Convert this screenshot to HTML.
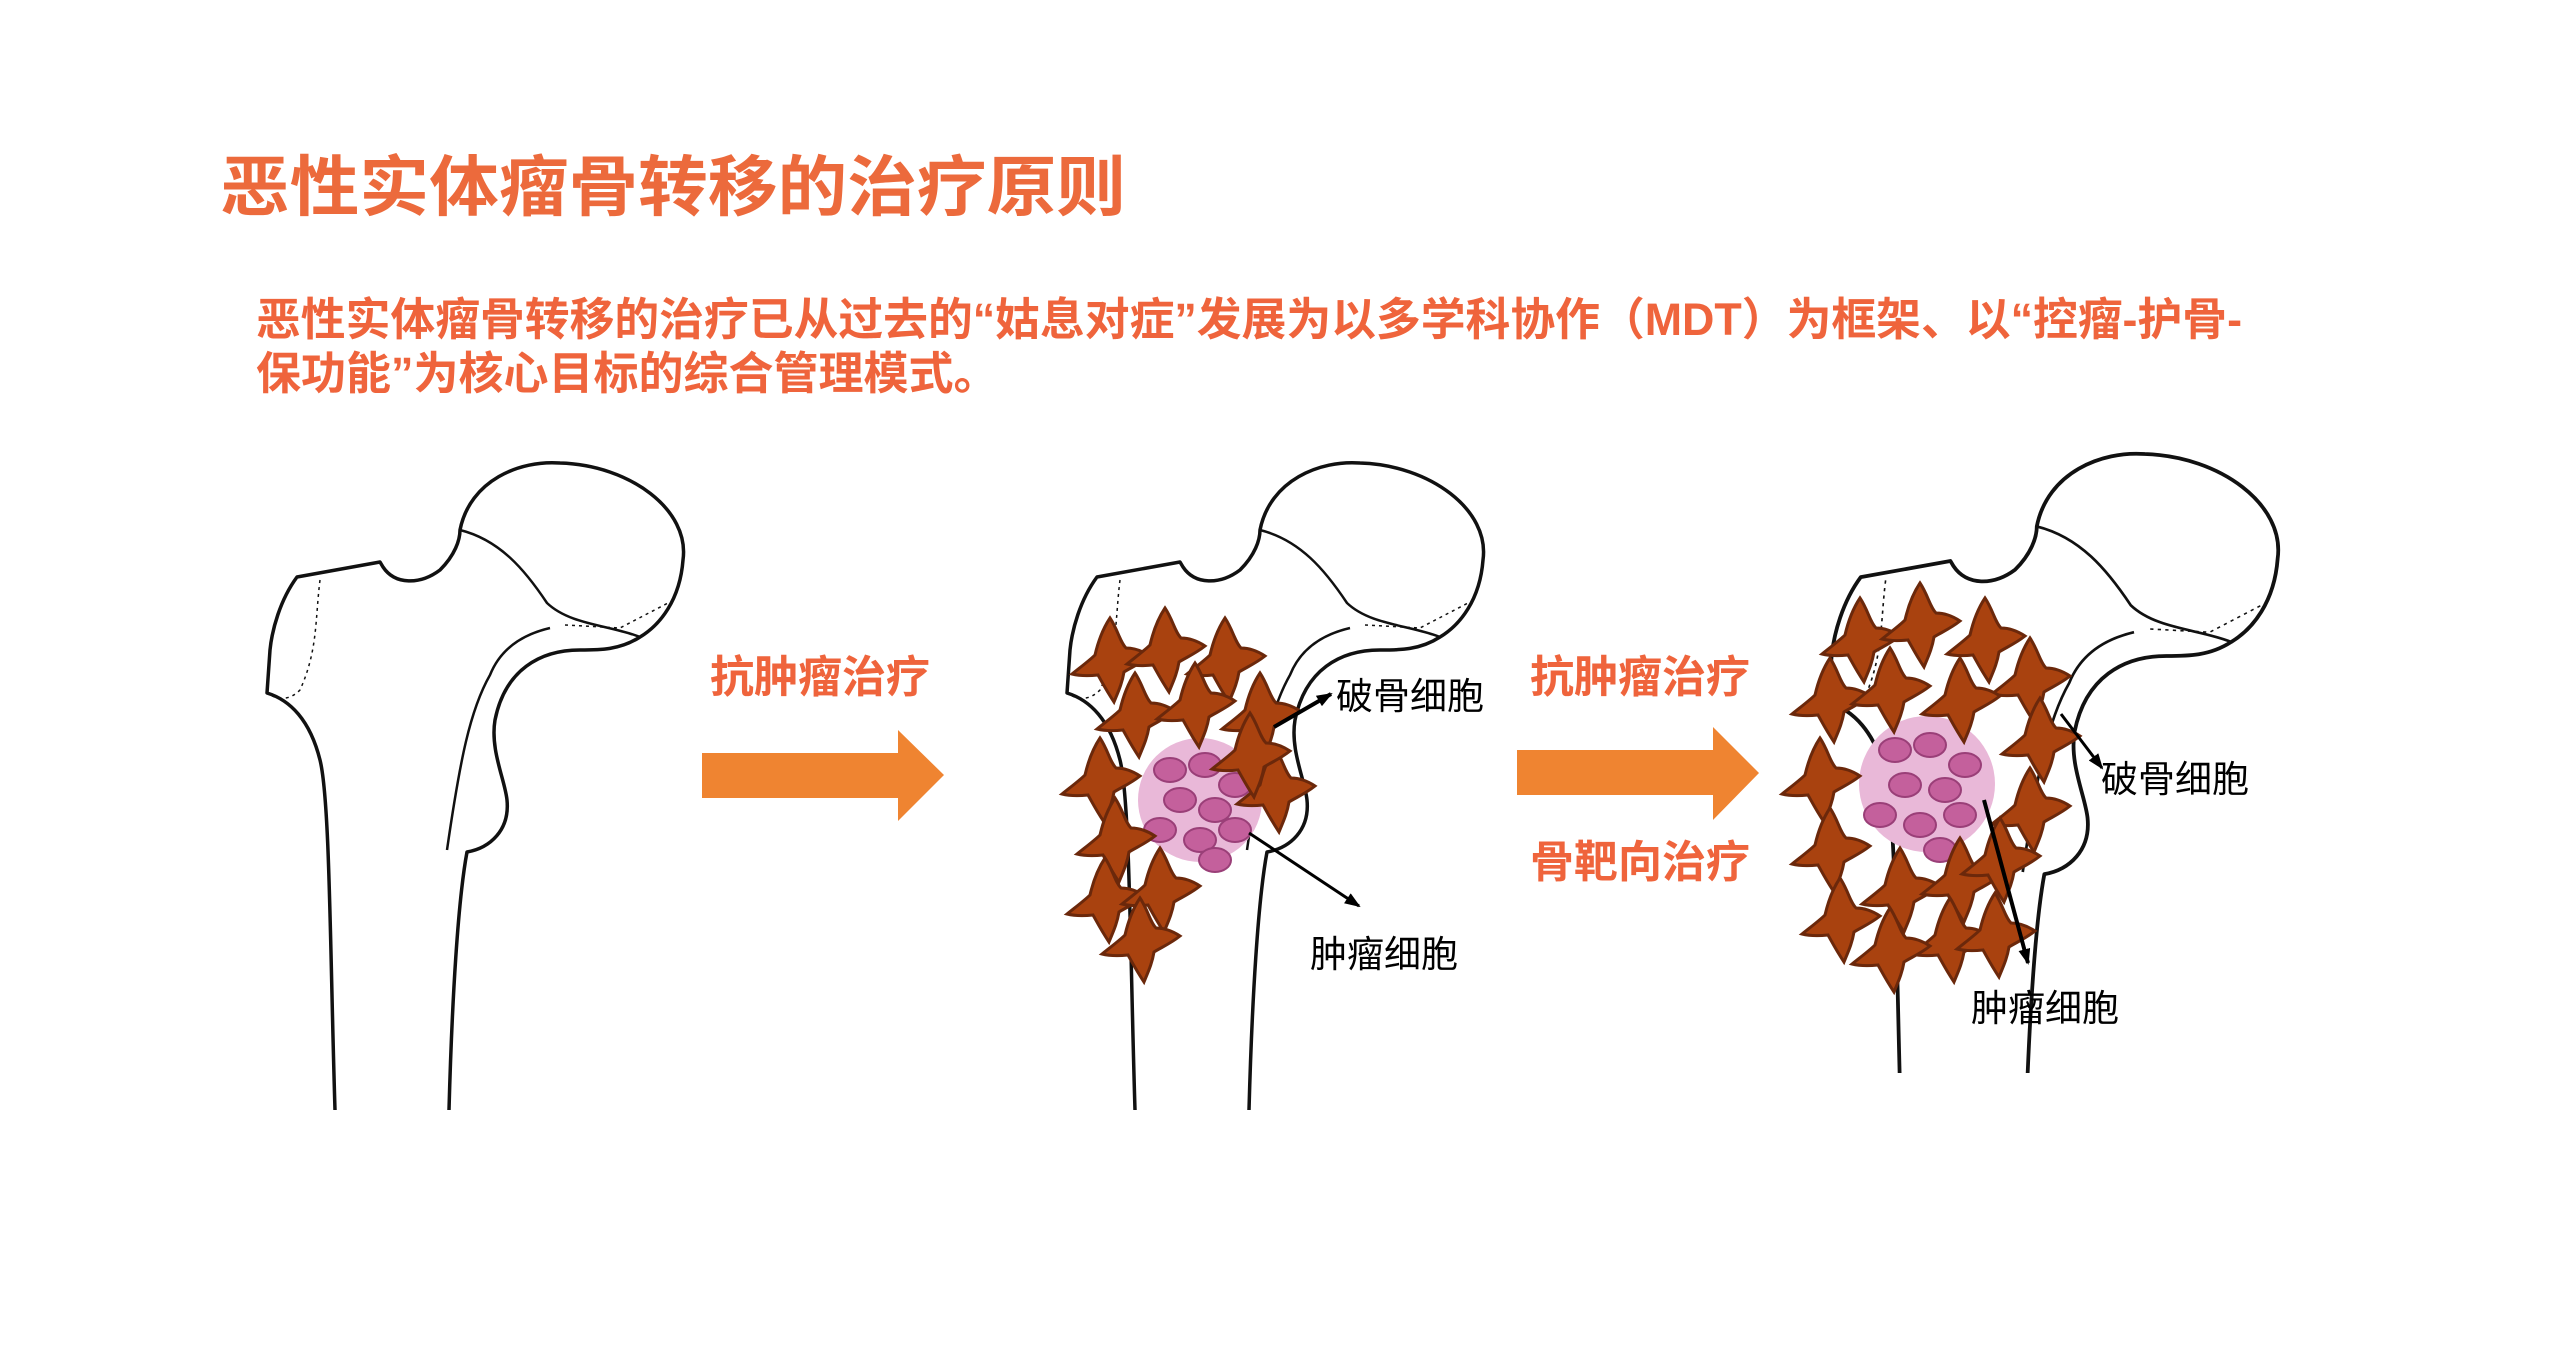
<!DOCTYPE html>
<html><head><meta charset="utf-8"><style>html,body{margin:0;padding:0;background:#fff}svg{display:block}</style></head>
<body>
<svg width="2560" height="1347" viewBox="0 0 2560 1347" xmlns="http://www.w3.org/2000/svg" font-family="'Liberation Sans','Noto Sans CJK SC',sans-serif">
<defs>
<g id="bone" fill="none" stroke="#111" stroke-width="3.5" stroke-linejoin="round">
<path d="M335 1110 C330 950 330 800 320 760 C310 720 290 700 267 693 L270 650 C272 630 280 600 297 577 L380 562 L383 567 C395 585 420 585 440 570 C455 555 460 540 460 530 C470 480 520 460 560 463 C630 465 690 510 683 560 C680 600 660 625 640 637 C620 650 600 650 580 650 C540 650 505 670 495 720 C490 750 505 780 507 800 C510 830 490 848 467 852 C458 900 452 1000 449 1110"/>
<path d="M460 530 C500 540 525 570 547 603 C570 625 610 625 640 637" stroke-width="2.5"/>
<path d="M550 628 C520 635 500 650 490 675 C470 710 460 760 447 850" stroke-width="2.5"/>
<path d="M320 580 C315 620 318 650 300 690 C290 700 280 700 270 695" stroke-width="1.5" stroke-dasharray="3 4"/>
<path d="M565 625 L620 628 L668 603" stroke-width="1.5" stroke-dasharray="3 4"/>
</g>
<path id="cell" d="M0,-42 C8,-30 10,-18 16,-12 C26,-12 34,-8 40,-4 C30,4 20,8 14,12 C12,24 8,32 4,42 C-4,30 -8,22 -12,15 C-22,16 -30,16 -38,14 C-28,6 -20,0 -15,-5 C-12,-18 -8,-30 0,-42 Z" fill="#a9420f" stroke="#6b280b" stroke-width="3"/>
<g id="pink"><ellipse rx="16" ry="12" fill="#c4609c" stroke="#9a3f78" stroke-width="2"/></g>
<marker id="ah" markerWidth="16" markerHeight="12" refX="14" refY="6" orient="auto" markerUnits="userSpaceOnUse"><path d="M0,0 L16,6 L0,12 Z" fill="#000"/></marker>
<clipPath id="c3"><rect x="1700" y="400" width="800" height="673"/></clipPath>
</defs>

<text x="220" y="210" font-size="66" font-weight="bold" fill="#ec6a3c" textLength="906" lengthAdjust="spacingAndGlyphs">恶性实体瘤骨转移的治疗原则</text>
<text x="256" y="335" font-size="45" font-weight="bold" fill="#ef643c" textLength="1986" lengthAdjust="spacingAndGlyphs">恶性实体瘤骨转移的治疗已从过去的“姑息对症”发展为以多学科协作（MDT）为框架、以“控瘤-护骨-</text>
<text x="256" y="389" font-size="45" font-weight="bold" fill="#ef643c">保功能”为核心目标的综合管理模式。</text>

<use href="#bone"/>
<use href="#bone" transform="translate(800,0)"/>
<g clip-path="url(#c3)"><use href="#bone" transform="translate(1540,-46) scale(1.08)"/></g>

<path d="M702 753 H898 V730 L944 775 L898 821 V798 H702 Z" fill="#ef8431"/>
<path d="M1517 750 H1713 V727 L1759 773 L1713 820 V795 H1517 Z" fill="#ef8431"/>
<text x="710" y="692" font-size="44" font-weight="bold" fill="#ef643c">抗肿瘤治疗</text>
<text x="1530" y="692" font-size="44" font-weight="bold" fill="#ef643c">抗肿瘤治疗</text>
<text x="1530" y="877" font-size="44" font-weight="bold" fill="#ef643c">骨靶向治疗</text>

<circle cx="1200" cy="800" r="62" fill="#e9b8d8"/>
<g>
<use href="#pink" x="1170" y="770"/><use href="#pink" x="1205" y="765"/><use href="#pink" x="1235" y="785"/>
<use href="#pink" x="1180" y="800"/><use href="#pink" x="1215" y="810"/><use href="#pink" x="1160" y="830"/>
<use href="#pink" x="1200" y="840"/><use href="#pink" x="1235" y="830"/><use href="#pink" x="1215" y="860"/>
</g>
<g>
<use href="#cell" x="1110" y="660"/><use href="#cell" x="1165" y="650"/><use href="#cell" x="1225" y="660"/>
<use href="#cell" x="1135" y="715"/><use href="#cell" x="1195" y="705"/><use href="#cell" x="1260" y="715"/>
<use href="#cell" x="1100" y="780"/><use href="#cell" x="1115" y="840"/><use href="#cell" x="1275" y="790"/>
<use href="#cell" x="1105" y="900"/><use href="#cell" x="1160" y="890"/><use href="#cell" x="1140" y="940"/>
<use href="#cell" x="1250" y="755"/>
</g>

<circle cx="1927" cy="784" r="68" fill="#e9b8d8"/>
<g>
<use href="#pink" x="1895" y="750"/><use href="#pink" x="1930" y="745"/><use href="#pink" x="1965" y="765"/>
<use href="#pink" x="1905" y="785"/><use href="#pink" x="1945" y="790"/><use href="#pink" x="1880" y="815"/>
<use href="#pink" x="1920" y="825"/><use href="#pink" x="1960" y="815"/><use href="#pink" x="1940" y="850"/>
</g>
<g>
<use href="#cell" x="1860" y="640"/><use href="#cell" x="1920" y="625"/><use href="#cell" x="1985" y="640"/><use href="#cell" x="2030" y="680"/>
<use href="#cell" x="1830" y="700"/><use href="#cell" x="1890" y="690"/><use href="#cell" x="1960" y="700"/><use href="#cell" x="2040" y="740"/>
<use href="#cell" x="1820" y="780"/><use href="#cell" x="2030" y="810"/><use href="#cell" x="1830" y="850"/>
<use href="#cell" x="1840" y="920"/><use href="#cell" x="1900" y="890"/><use href="#cell" x="1960" y="880"/><use href="#cell" x="2000" y="860"/>
<use href="#cell" x="1950" y="940"/><use href="#cell" x="1995" y="935"/><use href="#cell" x="1890" y="950"/>
</g>

<g stroke="#000" stroke-width="4" fill="none">
<line x1="1274" y1="727" x2="1331" y2="694" marker-end="url(#ah)"/>
<line x1="1249" y1="833" x2="1359" y2="906" marker-end="url(#ah)" stroke-width="3"/>
<line x1="2061" y1="714" x2="2102" y2="768" marker-end="url(#ah)" stroke-width="3"/>
<line x1="1984" y1="800" x2="2028" y2="963" marker-end="url(#ah)"/>
</g>
<g font-size="37" fill="#000">
<text x="1336" y="709">破骨细胞</text>
<text x="1310" y="967">肿瘤细胞</text>
<text x="2101" y="792">破骨细胞</text>
<text x="1971" y="1021">肿瘤细胞</text>
</g>
</svg>
</body></html>
